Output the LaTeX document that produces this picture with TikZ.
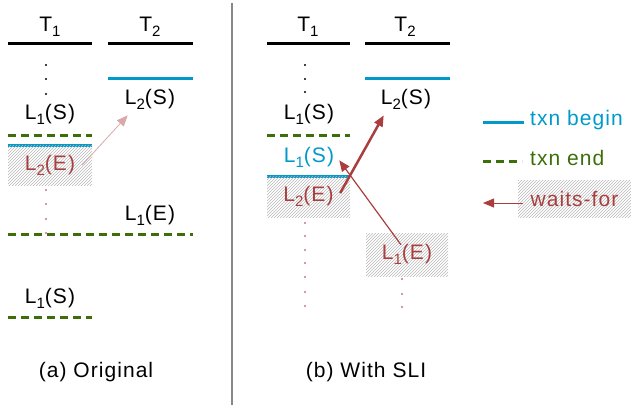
\documentclass[tikz,border=0pt]{standalone}
\usepackage{fontspec}
\setmainfont{Liberation Sans}[LetterSpace=5]
\usetikzlibrary{arrows.meta, patterns, positioning}
\definecolor{txnblue}{RGB}{0,153,204}
\definecolor{txngreen}{RGB}{60,110,10}
\definecolor{waitred}{RGB}{170,62,62}
\definecolor{divgray}{RGB}{136,136,136}
\newcommand{\lsub}[1]{\raisebox{-5pt}{\fontsize{15}{15}\selectfont #1}}
\tikzstyle{op} = [font=\fontsize{21}{25}\selectfont, inner sep=2pt]
\tikzstyle{hatched} = [op, waitred, pattern=north east lines, pattern color=gray!55, minimum height=40pt]
\tikzstyle{txnline} = [line width=3pt]
\tikzstyle{txnbegin} = [txnblue, line width=3pt]
\tikzstyle{txnend} = [txngreen, line width=3pt, dash pattern=on 8pt off 5pt]
\tikzstyle{waitarrow} = [waitred, -{Triangle[length=11pt,width=9pt]}]
\tikzstyle{dot} = [circle, fill, inner sep=0pt, minimum size=2.4pt]

\begin{document}
\begin{tikzpicture}[x=1pt, y=-1pt, node distance = 6pt]
	\useasboundingbox (0,0) rectangle (631,408);
	% (a) original
	\node (TaOne) [op] at (50,27) {T\lsub{1}};
	\node (TaTwo) [op] at (150,27) {T\lsub{2}};
	\draw [txnline] (8,43) -- (92,43);
	\draw [txnline] (108,43) -- (193,43);
	\foreach \y in {65,79,94} \node [dot] at (46,\y) {};
	\node (LaOneS) [op] at (50,114) {L\lsub{1}(S)};
	\draw [txnend] (8,135) -- (92,135);
	\draw [txnbegin] (8,145) -- (92,145);
	\node (LaTwoE) [hatched, minimum width=84pt] at (50,165) {L\lsub{2}(E)};
	\foreach \y in {190,204,219,233} \node [dot, waitred!70] at (46,\y) {};
	\draw [txnbegin] (108,78) -- (193,78);
	\node (LaTwoS) [op] at (150,99) {L\lsub{2}(S)};
	\node (LaOneE) [op] at (150,215) {L\lsub{1}(E)};
	\draw [txnend] (8,234) -- (193,234);
	\node (LaOneSb) [op] at (50,298) {L\lsub{1}(S)};
	\draw [txnend] (8,317) -- (92,317);
	\node (capA) [op] at (96,372) {(a) Original};
	\draw [waitarrow, draw=waitred!45, line width=0.8pt] ([xshift=-10pt]LaTwoE.east) -- ([xshift=5pt, yshift=-4pt]LaTwoS.south west);

	\draw [divgray, line width=2.5pt] (232,3) -- (232,405);

	% (b) with SLI
	\node (TbOne) [op] at (308,27) {T\lsub{1}};
	\node (TbTwo) [op] at (405,27) {T\lsub{2}};
	\draw [txnline] (267,43) -- (350,43);
	\draw [txnline] (365,43) -- (450,43);
	\foreach \y in {65,79,92} \node [dot] at (305,\y) {};
	\node (LbOneS) [op] at (309,114) {L\lsub{1}(S)};
	\draw [txnend] (267,135) -- (350,135);
	\node (LbOneSn) [op, txnblue] at (309,157) {L\lsub{1}(S)};
	\draw [txnbegin] (267,176) -- (350,176);
	\node (LbTwoE) [hatched, minimum width=83pt, minimum height=41pt] at (308.5,196.5) {L\lsub{2}(E)};
	\foreach \y in {223,236,250,263,277,292,306} \node [dot, waitred!70] at (305,\y) {};
	\draw [txnbegin] (365,78) -- (450,78);
	\node (LbTwoS) [op] at (406,99) {L\lsub{2}(S)};
	\node (LbOneE) [hatched, minimum width=82pt, minimum height=43pt] at (407,254.5) {L\lsub{1}(E)};
	\foreach \y in {279,294,307} \node [dot, waitred!70] at (402,\y) {};
	\node (capB) [op] at (366,372) {(b) With SLI};
	\draw [waitarrow, line width=2.5pt] ([xshift=-10pt, yshift=3.5pt]LbTwoE.east) -- ([xshift=5pt, yshift=-4pt]LbTwoS.south west);
	\draw [waitarrow, line width=1.2pt] ([xshift=-6pt, yshift=-12pt]LbOneE.north) -- ([xshift=3pt, yshift=9pt]LbOneSn.south east);

	% legend
	\coordinate (legBeginL) at (483,122);
	\coordinate (legBeginR) at (524,122);
	\draw [txnbegin] (legBeginL) -- (legBeginR);
	\node (legBegin) [op, txnblue, anchor=west, right = 4pt of legBeginR, yshift=2pt] {txn begin};
	\coordinate (legEndL) at (483,161);
	\coordinate (legEndR) at (522,161);
	\draw [txnend] (legEndL) -- (legEndR);
	\node (legEnd) [op, txngreen, anchor=west, right = 6pt of legEndR, yshift=3pt] {txn end};
	\node (legWait) [hatched, minimum width=113pt, minimum height=37pt] at (574.5,198.5) {waits-for};
	\coordinate (legArrow) at (483,203);
	\draw [waitarrow, line width=0.8pt] ([xshift=5pt, yshift=-4.5pt]legWait.west) -- (legArrow);
\end{tikzpicture}
\end{document}
